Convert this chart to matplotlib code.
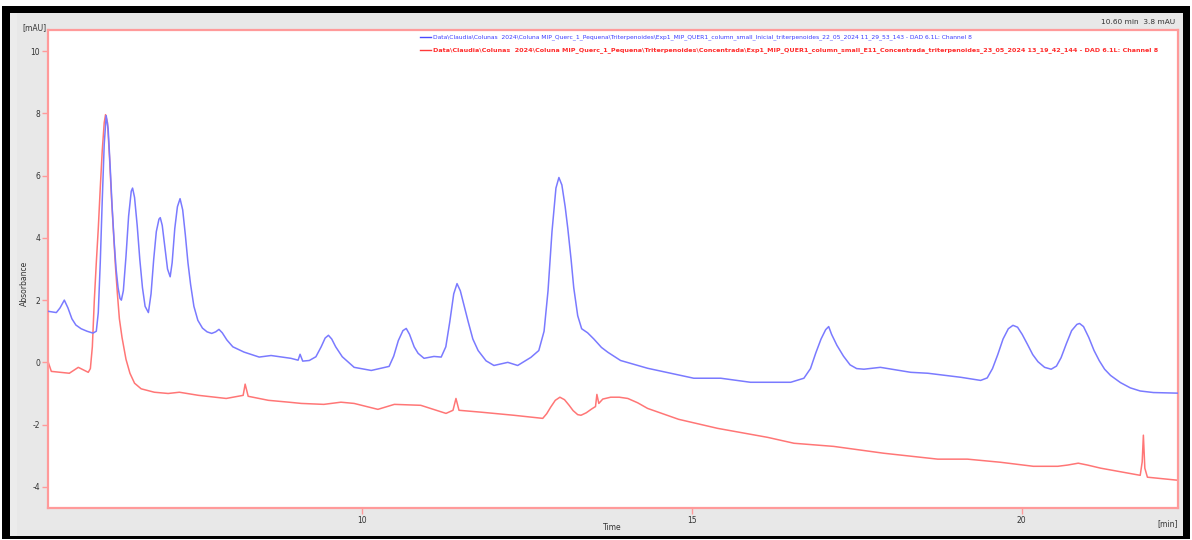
import matplotlib
matplotlib.use("Agg")
import matplotlib.pyplot as plt
from matplotlib.patches import Rectangle

plt.rcParams["axes.unicode_minus"] = False

# Retention time (min) and absorbance (mAU) - initial run (DAD channel 8)
inicial_t = [5.242, 5.30, 5.364, 5.42, 5.485, 5.54, 5.60, 5.66, 5.74, 5.83, 5.92, 5.97,
             6.00, 6.03, 6.06, 6.09, 6.12, 6.15, 6.18, 6.21, 6.24, 6.27, 6.30, 6.33, 6.35,
             6.38, 6.42, 6.46, 6.50, 6.52, 6.55, 6.59, 6.63, 6.67, 6.71, 6.76, 6.80, 6.84,
             6.88, 6.92, 6.94, 6.97, 7.01, 7.05, 7.09, 7.12, 7.16, 7.20, 7.24, 7.28, 7.32,
             7.36, 7.40, 7.45, 7.51, 7.58, 7.65, 7.72, 7.78, 7.83, 7.88, 7.95, 8.04, 8.21,
             8.44, 8.62, 8.92, 9.03, 9.06, 9.10, 9.20, 9.30, 9.38, 9.44, 9.49, 9.54, 9.60,
             9.70, 9.88, 10.14, 10.41, 10.48, 10.55, 10.62, 10.67, 10.72, 10.79, 10.85,
             10.94, 11.09, 11.20, 11.27, 11.33, 11.39, 11.44, 11.49, 11.55, 11.61, 11.68,
             11.76, 11.88, 12.00, 12.21, 12.36, 12.56, 12.68, 12.76, 12.82, 12.88, 12.94,
             12.985, 13.03, 13.08, 13.12, 13.17, 13.21, 13.27, 13.33, 13.42, 13.515, 13.63,
             13.73, 13.92, 14.33, 14.68, 15.03, 15.44, 15.89, 16.50, 16.70, 16.80, 16.88,
             16.96, 17.03, 17.076, 17.12, 17.20, 17.30, 17.40, 17.50, 17.61, 17.86, 18.32,
             18.58, 19.08, 19.38, 19.48, 19.56, 19.64, 19.72, 19.80, 19.87, 19.94, 20.01,
             20.09, 20.17, 20.25, 20.35, 20.45, 20.53, 20.60, 20.68, 20.76, 20.84, 20.88,
             20.94, 21.02, 21.10, 21.18, 21.26, 21.35, 21.50, 21.65, 21.80, 22.00, 22.379]
inicial_mau = [1.64, 1.62, 1.60, 1.75, 2.00, 1.75, 1.40, 1.20, 1.08, 1.00, 0.94, 1.00,
               1.60, 3.20, 5.20, 7.00, 7.93, 7.50, 6.30, 5.00, 3.90, 3.00, 2.40, 2.05, 2.00,
               2.30, 3.40, 4.70, 5.50, 5.60, 5.30, 4.40, 3.30, 2.40, 1.80, 1.60, 2.20, 3.30,
               4.20, 4.60, 4.65, 4.40, 3.70, 3.00, 2.75, 3.20, 4.30, 5.00, 5.26, 4.90, 4.10,
               3.20, 2.50, 1.80, 1.35, 1.10, 0.98, 0.93, 0.98, 1.06, 0.95, 0.72, 0.50, 0.33,
               0.17, 0.22, 0.13, 0.07, 0.26, 0.04, 0.06, 0.18, 0.50, 0.78, 0.87, 0.75, 0.50,
               0.18, -0.16, -0.26, -0.13, 0.20, 0.70, 1.02, 1.09, 0.90, 0.50, 0.29,
               0.13, 0.19, 0.17, 0.50, 1.30, 2.20, 2.53, 2.30, 1.80, 1.30, 0.75,
               0.38, 0.05, -0.10, 0.00, -0.10, 0.16, 0.38, 1.00, 2.30, 4.20, 5.60,
               5.94, 5.70, 5.00, 4.30, 3.30, 2.40, 1.50, 1.08, 0.95, 0.75, 0.48,
               0.32, 0.06, -0.19, -0.35, -0.51, -0.51, -0.64, -0.64, -0.51, -0.20, 0.30,
               0.75, 1.05, 1.15, 0.90, 0.55, 0.20, -0.08, -0.20, -0.22, -0.16, -0.32,
               -0.35, -0.48, -0.58, -0.50, -0.20, 0.25, 0.75, 1.08, 1.19, 1.13, 0.90,
               0.58, 0.25, 0.02, -0.16, -0.22, -0.12, 0.15, 0.60, 1.02, 1.22, 1.25,
               1.15, 0.80, 0.38, 0.05, -0.22, -0.42, -0.65, -0.82, -0.92, -0.97, -0.99]

# Retention time (min) and absorbance (mAU) - concentrated fraction E11
concentrada_t = [5.242, 5.288, 5.561, 5.697, 5.848, 5.88, 5.91, 5.94, 5.97, 6.00, 6.03, 6.06,
                 6.09, 6.11, 6.14, 6.17, 6.20, 6.23, 6.26, 6.29, 6.32, 6.36, 6.42, 6.48, 6.55,
                 6.65, 6.85, 7.06, 7.23, 7.52, 7.94, 8.197, 8.227, 8.273, 8.58, 8.89, 9.08,
                 9.42, 9.68, 9.88, 10.24, 10.49, 10.89, 11.273, 11.379, 11.424, 11.470, 11.80,
                 12.30, 12.74, 12.80, 12.86, 12.93, 13.00, 13.07, 13.14, 13.20, 13.27, 13.32,
                 13.40, 13.48, 13.54, 13.561, 13.59, 13.65, 13.77, 13.90, 14.03, 14.18, 14.33,
                 14.80, 15.39, 16.15, 16.55, 17.15, 17.91, 18.73, 19.18, 19.68, 20.18, 20.55,
                 20.70, 20.86, 21.00, 21.20, 21.80, 21.83, 21.848, 21.87, 21.909, 22.379]
concentrada_mau = [0.00, -0.29, -0.35, -0.16, -0.32, -0.20, 0.50, 2.00, 3.20, 4.30, 5.60, 6.80,
                   7.70, 7.96, 7.70, 6.60, 5.30, 4.20, 3.10, 2.20, 1.40, 0.80, 0.10, -0.35, -0.67,
                   -0.85, -0.96, -1.00, -0.96, -1.06, -1.16, -1.06, -0.70, -1.09, -1.22, -1.28, -1.32,
                   -1.35, -1.28, -1.32, -1.51, -1.35, -1.38, -1.64, -1.54, -1.16, -1.54, -1.60,
                   -1.70, -1.80, -1.65, -1.44, -1.22, -1.12, -1.20, -1.38, -1.55, -1.68, -1.70,
                   -1.62, -1.50, -1.42, -1.03, -1.32, -1.18, -1.12, -1.12, -1.16, -1.30, -1.48,
                   -1.83, -2.12, -2.41, -2.60, -2.70, -2.92, -3.11, -3.11, -3.21, -3.34, -3.34,
                   -3.30, -3.24, -3.30, -3.40, -3.63, -3.20, -2.34, -3.40, -3.69, -3.79]

y_ticks = [-4, -2, 0, 2, 4, 6, 8, 10]
x_ticks = [10, 15, 20]

label_inicial = ("Data\\Claudia\\Colunas  2024\\Coluna MIP_Querc_1_Pequena\\Triterpenoides\\"
                 "Exp1_MIP_QUER1_column_small_Inicial_triterpenoides_22_05_2024 11_29_53_143"
                 " - DAD 6.1L: Channel 8")
label_concentrada = ("Data\\Claudia\\Colunas  2024\\Coluna MIP_Querc_1_Pequena\\Triterpenoides\\"
                     "Concentrada\\Exp1_MIP_QUER1_column_small_E11_Concentrada_triterpenoides_"
                     "23_05_2024 13_19_42_144 - DAD 6.1L: Channel 8")

W, H = 1192, 540
fig = plt.figure(figsize=(W / 100, H / 100), dpi=100)
fig.patch.set_facecolor("white")


def px_rect(x0, y0, x1, y1, color, z=0):
    fig.add_artist(Rectangle((x0 / W, 1 - y1 / H), (x1 - x0) / W, (y1 - y0) / H,
                             transform=fig.transFigure, facecolor=color,
                             edgecolor="none", zorder=z))


# window frame and panel
px_rect(2, 6, 1190, 539, "black", -3)
px_rect(10, 13, 1183, 536, "#e8e8e8", -2)
px_rect(10, 13, 17, 536, "#ececec", -1)

RED = "#ff9a9a"
BLUE_LINE = "#7a7aff"
RED_LINE = "#ff7676"

ax = fig.add_axes([47.7 / W, (540 - 508) / H, (1178 - 47.7) / W, (508 - 30) / H])
ax.set_facecolor("white")
ax.plot(inicial_t, inicial_mau, color=BLUE_LINE, lw=1.1, zorder=3)
ax.plot(concentrada_t, concentrada_mau, color=RED_LINE, lw=1.1, zorder=2)

ax.set_xlim(5.233, 22.373)
ax.set_ylim(-4.68, 10.68)
ax.set_xticks(x_ticks)
ax.set_yticks(y_ticks)
for s in ax.spines.values():
    s.set_color(RED)
    s.set_linewidth(1.6)
ax.tick_params(axis="both", colors=RED, length=4, width=1.0, direction="out",
               labelsize=5.5, labelcolor="#333333", pad=1.5)

# axis captions
fig.text(34 / W, 1 - 28 / H, "[mAU]", fontsize=5.5, color="#333333", ha="center", va="center")
fig.text(24 / W, 1 - 283 / H, "Absorbance", fontsize=5.5, color="#333333",
         rotation=90, ha="center", va="center")
fig.text(612 / W, 1 - 528 / H, "Time", fontsize=5.5, color="#333333", ha="center", va="center")
fig.text(1168 / W, 1 - 524 / H, "[min]", fontsize=5.5, color="#333333", ha="center", va="center")
fig.text(1175 / W, 1 - 22 / H, "10.60 min  3.8 mAU", fontsize=5.3, color="#333333",
         ha="right", va="center")

# legend entries
fig.add_artist(plt.Line2D([420 / W, 431 / W], [1 - 37 / H, 1 - 37 / H], color="#4a4aff", lw=1.0))
fig.add_artist(plt.Line2D([420 / W, 431 / W], [1 - 50 / H, 1 - 50 / H], color="#ff3a3a", lw=1.0))
t1 = fig.text(433 / W, 1 - 37 / H, label_inicial, fontsize=5.5, color="#3a3aff",
              ha="left", va="center")
t2 = fig.text(433 / W, 1 - 50 / H, label_concentrada, fontsize=5.5, color="#ff2a2a",
              fontweight="bold", ha="left", va="center")

# fit legend text widths to the available span
fig.canvas.draw()
r = fig.canvas.get_renderer()
for t, target in ((t1, 977 - 433), (t2, 1156 - 433)):
    w = t.get_window_extent(renderer=r).width
    t.set_fontsize(t.get_fontsize() * target / w)

fig.savefig("out.png", dpi=100, facecolor=fig.get_facecolor())
